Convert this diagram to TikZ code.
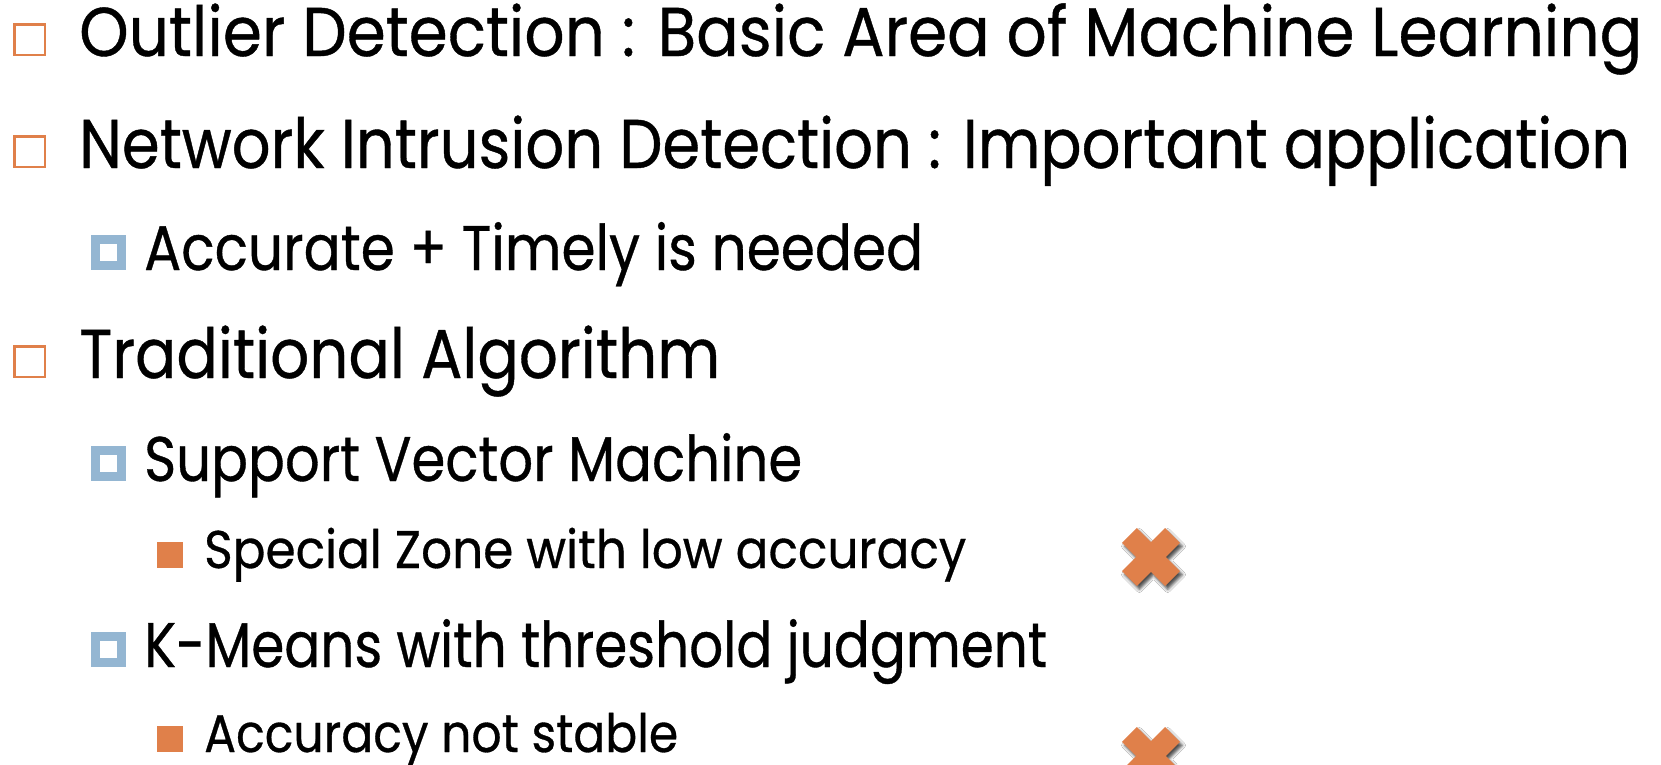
\documentclass[tikz,border=0pt]{standalone}
\usepackage{fontspec}
\setmainfont{Poppins}
\newfontfamily\slidefont[FakeBold=0.6]{Poppins}
\usepackage{graphicx}
\usetikzlibrary{shadows.blur}
\definecolor{accent}{HTML}{E0804A}
\definecolor{soft}{HTML}{94B6D2}
\tikzset{
    % Level one bullet: hollow orange square
    bulletone/.style={
        rectangle,
        draw=accent,
        line width=2.5pt,
        minimum size=30.5pt,
        inner sep=0pt,
        anchor=south west
    },
    % Level two bullet: blue square with white core
    bullettwo/.style={
        rectangle,
        draw=soft,
        fill=white,
        line width=9pt,
        minimum size=26pt,
        inner sep=0pt,
        anchor=south west
    },
    % Level three bullet: filled orange square
    bulletthree/.style={
        rectangle,
        fill=accent,
        minimum size=26pt,
        inner sep=0pt,
        outer sep=0pt,
        anchor=south west
    },
    % Text styles
    itemtext/.style={
        anchor=base west,
        inner sep=0pt,
        text=black
    },
    levelone/.style={itemtext, font=\slidefont\fontsize{69}{80}\selectfont},
    leveltwo/.style={itemtext, font=\slidefont\fontsize{63}{72}\selectfont},
    levelthree/.style={itemtext, font=\slidefont\fontsize{53}{62}\selectfont},
    % Orange cross mark
    crossmark/.pic={
        \path[fill=accent,
              blur shadow={shadow xshift=2.5pt, shadow yshift=-3.5pt,
                           shadow blur radius=3pt, shadow opacity=70}]
            (10.5,30.5) -- (10.5,10.5) -- (30.5,10.5) -- (30.5,-10.5)
            -- (10.5,-10.5) -- (10.5,-30.5) -- (-10.5,-30.5) -- (-10.5,-10.5)
            -- (-30.5,-10.5) -- (-30.5,10.5) -- (-10.5,10.5) -- (-10.5,30.5) -- cycle;
    }
}
\newcommand{\fitline}[2]{\resizebox{#1pt}{\height}{#2}}

\begin{document}
\begin{tikzpicture}[x=1pt, y=-1pt]
    \useasboundingbox[fill=white] (0,0) rectangle (1661,764);

    % First level items
    \node[bulletone] (b1) at (13,56) {};
    \node[levelone] (t1) at (79,56) {\fitline{1563}{Outlier Detection : Basic Area of Machine Learning}};
    \node[bulletone] (b2) at (13,168) {};
    \node[levelone] (t2) at (79,168) {\fitline{1551}{Network Intrusion Detection : Important application}};

    \node[bullettwo] (b3) at (91,270) {};
    \node[leveltwo] (t3) at (144,270) {\fitline{779}{Accurate + Timely is needed}};

    \node[bulletone] (b4) at (13,378) {};
    \node[levelone] (t4) at (79,378) {\fitline{641}{Traditional Algorithm}};

    % Algorithms and their weak points
    \node[bullettwo] (b5) at (91,481) {};
    \node[leveltwo] (t5) at (144,481) {\fitline{658}{Support Vector Machine}};
    \node[bulletthree] (b6) at (157,568) {};
    \node[levelthree] (t6) at (204,568) {\fitline{762}{Special Zone with low accuracy}};

    \node[bullettwo] (b7) at (91,667) {};
    \node[leveltwo] (t7) at (144,667) {\fitline{903}{K-Means with threshold judgment}};
    \node[bulletthree] (b8) at (157,752) {};
    \node[levelthree] (t8) at (204,752) {\fitline{474}{Accuracy not stable}};

    % Cross marks
    \pic[rotate=45] (x1) at (1151,557) {crossmark};
    \pic[rotate=45] (x2) at (1151,756) {crossmark};
\end{tikzpicture}
\end{document}
